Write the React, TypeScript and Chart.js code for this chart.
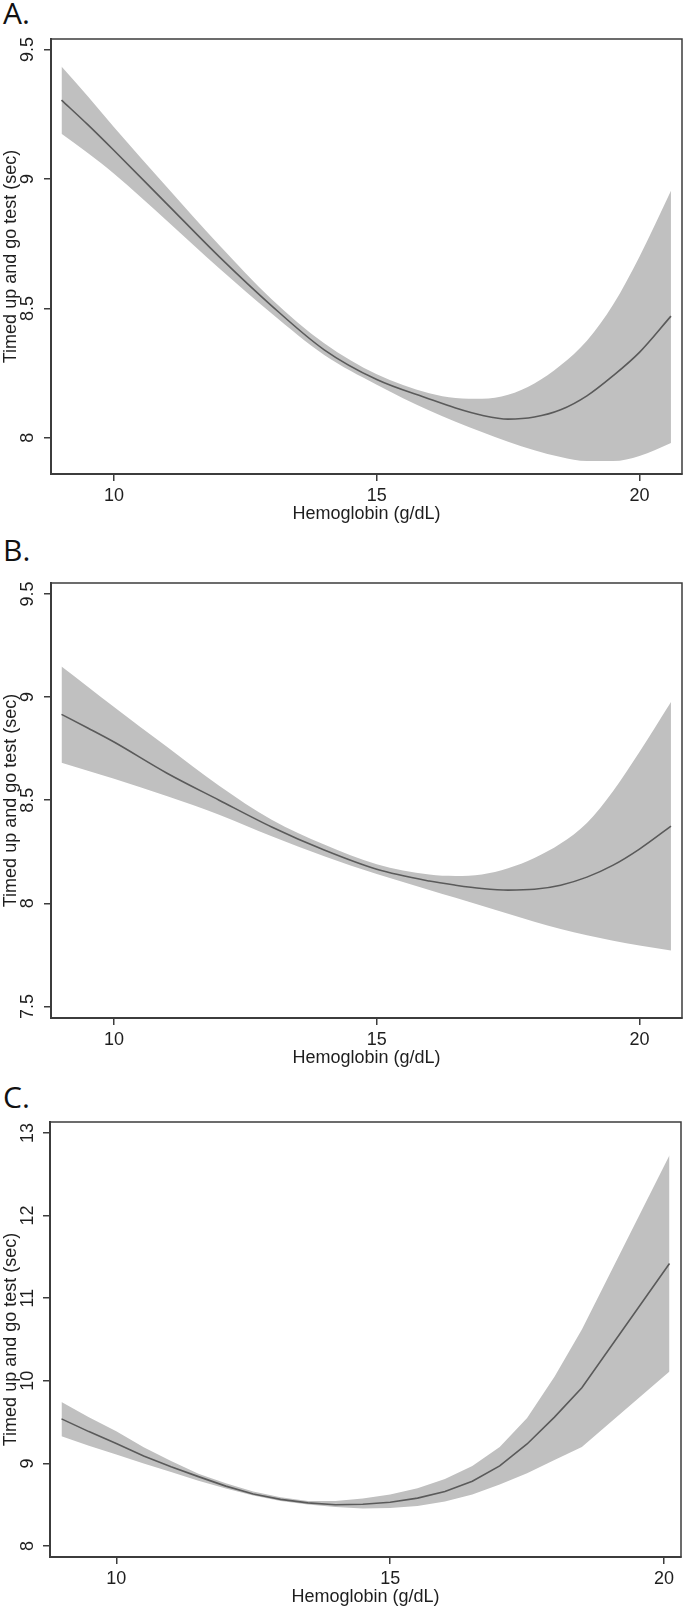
import React, { useEffect, useRef } from 'react';
import { Chart, registerables } from 'chart.js';

Chart.register(...registerables);

// ---------- data ----------
const hbAB = [9, 9.5, 10, 11, 12, 13, 14, 15, 16, 16.5, 17, 17.5, 18, 18.5, 19, 19.5, 20, 20.6];

const fitA = [9.305, 9.21, 9.11, 8.905, 8.70, 8.51, 8.34, 8.225, 8.15, 8.115, 8.087, 8.072, 8.08, 8.108, 8.162, 8.24, 8.33, 8.47];
const upperA = [9.435, 9.32, 9.20, 8.97, 8.745, 8.535, 8.365, 8.245, 8.172, 8.154, 8.151, 8.166, 8.21, 8.28, 8.375, 8.515, 8.70, 8.955];
const lowerA = [9.175, 9.10, 9.02, 8.84, 8.655, 8.48, 8.32, 8.205, 8.105, 8.062, 8.022, 7.985, 7.952, 7.926, 7.91, 7.91, 7.93, 7.98];

const fitB = [8.916, 8.85, 8.782, 8.632, 8.50, 8.37, 8.258, 8.165, 8.108, 8.088, 8.072, 8.064, 8.068, 8.088, 8.127, 8.185, 8.263, 8.374];
const upperB = [9.148, 9.05, 8.952, 8.76, 8.57, 8.405, 8.285, 8.19, 8.14, 8.133, 8.14, 8.17, 8.22, 8.29, 8.39, 8.545, 8.734, 8.976];
const lowerB = [8.682, 8.643, 8.604, 8.52, 8.43, 8.325, 8.228, 8.142, 8.065, 8.027, 7.988, 7.949, 7.911, 7.875, 7.845, 7.818, 7.795, 7.771];

const hbC = [9, 9.5, 10, 10.5, 11, 11.5, 12, 12.5, 13, 13.5, 14, 14.5, 15, 15.5, 16, 16.5, 17, 17.5, 18, 18.5, 20.1];
const fitC = [9.539, 9.385, 9.24, 9.09, 8.96, 8.84, 8.725, 8.63, 8.565, 8.522, 8.50, 8.505, 8.53, 8.58, 8.66, 8.785, 8.97, 9.235, 9.56, 9.915, 11.42];
const upperC = [9.744, 9.56, 9.39, 9.195, 9.03, 8.875, 8.76, 8.66, 8.59, 8.545, 8.545, 8.575, 8.625, 8.70, 8.81, 8.97, 9.2, 9.55, 10.05, 10.62, 12.73];
const lowerC = [9.329, 9.215, 9.107, 9.0, 8.896, 8.79, 8.695, 8.61, 8.545, 8.502, 8.472, 8.455, 8.46, 8.485, 8.54, 8.625, 8.745, 8.88, 9.04, 9.20, 10.114];

const xTicks = [10, 15, 20];
const yTicksA = [8, 8.5, 9, 9.5];
const yTicksB = [7.5, 8, 8.5, 9, 9.5];
const yTicksC = [8, 9, 10, 11, 12, 13];

const panelLabels = ['A.', 'B.', 'C.'];
const xTitle = 'Hemoglobin (g/dL)';
const yTitle = 'Timed up and go test (sec)';

// ---------- styles ----------
const FONT = "'Liberation Sans', Arial, Helvetica, sans-serif";
const FRAME = '#3c3c3c';
const TEXT = '#1e1e1e';
const BAND = '#c0c0c0';
const LINE = '#5a5a5a';

const toPts = (xs: number[], ys: number[]) => xs.map((x, i) => ({ x, y: ys[i] }));

const framePlugin = {
  id: 'frameAndYLabels',
  afterDraw(chart: any) {
    const { ctx, chartArea } = chart;
    const { left, top, right, bottom } = chartArea;
    ctx.save();
    ctx.strokeStyle = FRAME;
    ctx.lineWidth = 1.5;
    ctx.beginPath();
    ctx.moveTo(left - 0.75, top);
    ctx.lineTo(right, top);
    ctx.lineTo(right, bottom + 0.75);
    ctx.stroke();
    const ys = chart.scales.y;
    ctx.fillStyle = TEXT;
    ctx.font = `18px ${FONT}`;
    ctx.textAlign = 'center';
    ctx.textBaseline = 'middle';
    ys.ticks.forEach((t: any) => {
      const py = ys.getPixelForValue(t.value);
      ctx.save();
      ctx.translate(28, py);
      ctx.rotate(-Math.PI / 2);
      ctx.fillText(String(t.value), 0, 0);
      ctx.restore();
    });
    ctx.restore();
  },
};

type PanelProps = {
  top: number;
  height: number;
  yAxisWidth: number;
  padRight: number;
  xMin: number;
  xMax: number;
  yMin: number;
  yMax: number;
  xs: number[];
  fit: number[];
  upper: number[];
  lower: number[];
  yTicks: number[];
  smooth: boolean;
};

function Panel(p: PanelProps) {
  const ref = useRef<HTMLCanvasElement | null>(null);
  useEffect(() => {
    if (!ref.current) return;
    const interp = p.smooth ? 'monotone' : 'default';
    const chart = new Chart(ref.current, {
      type: 'line',
      data: {
        datasets: [
          {
            data: toPts(p.xs, p.fit),
            borderColor: LINE,
            borderWidth: 1.6,
            pointRadius: 0,
            fill: false,
            order: 0,
            cubicInterpolationMode: interp as any,
          },
          {
            data: toPts(p.xs, p.upper),
            borderWidth: 0,
            borderColor: 'rgba(0,0,0,0)',
            backgroundColor: BAND,
            pointRadius: 0,
            fill: '+1',
            order: 1,
            cubicInterpolationMode: interp as any,
          },
          {
            data: toPts(p.xs, p.lower),
            borderWidth: 0,
            borderColor: 'rgba(0,0,0,0)',
            pointRadius: 0,
            fill: false,
            order: 2,
            cubicInterpolationMode: interp as any,
          },
        ],
      },
      options: {
        animation: false,
        responsive: false,
        maintainAspectRatio: false,
        devicePixelRatio: 1,
        layout: { padding: { left: 0, top: 9, right: p.padRight, bottom: 0 } },
        plugins: { legend: { display: false }, tooltip: { enabled: false } },
        events: [],
        scales: {
          x: {
            type: 'linear',
            min: p.xMin,
            max: p.xMax,
            afterBuildTicks: (s: any) => {
              s.ticks = xTicks.map((v) => ({ value: v }));
            },
            afterFit: (s: any) => {
              s.height = 52;
            },
            grid: {
              drawOnChartArea: false,
              drawTicks: true,
              tickLength: 7,
              color: FRAME,
              lineWidth: 1.5,
            },
            border: { display: true, color: FRAME, width: 2 },
            ticks: {
              padding: 4,
              color: TEXT,
              font: { family: FONT, size: 18 },
              maxRotation: 0,
              autoSkip: false,
            },
            title: {
              display: true,
              text: xTitle,
              color: TEXT,
              font: { family: FONT, size: 18 },
              padding: { top: 0, bottom: 1 },
            },
          },
          y: {
            type: 'linear',
            min: p.yMin,
            max: p.yMax,
            afterBuildTicks: (s: any) => {
              s.ticks = p.yTicks.map((v) => ({ value: v }));
            },
            afterFit: (s: any) => {
              s.width = p.yAxisWidth;
            },
            grid: {
              drawOnChartArea: false,
              drawTicks: true,
              tickLength: 7,
              color: FRAME,
              lineWidth: 1.5,
            },
            border: { display: true, color: FRAME, width: 2 },
            ticks: { display: false },
            title: {
              display: true,
              text: yTitle,
              color: TEXT,
              font: { family: FONT, size: 18 },
              padding: { top: 0, bottom: 0 },
            },
          },
        },
      },
      plugins: [framePlugin],
    } as any);
    return () => chart.destroy();
  }, []);
  return (
    <canvas
      ref={ref}
      width={685}
      height={p.height}
      style={{ position: 'absolute', left: 0, top: p.top, width: 685, height: p.height }}
    />
  );
}

const labelStyle = (top: number): React.CSSProperties => ({
  position: 'absolute',
  left: 3,
  top,
  fontFamily: "'Open Sans', 'Noto Sans', sans-serif",
  fontSize: 30,
  lineHeight: '30px',
  color: '#111',
  whiteSpace: 'nowrap',
});

export default function App() {
  return (
    <div style={{ position: 'absolute', left: 0, top: 0, width: 685, height: 1609, background: '#fff', overflow: 'hidden' }}>
      <div style={labelStyle(-2)}>{panelLabels[0]}</div>
      <div style={labelStyle(535)}>{panelLabels[1]}</div>
      <div style={labelStyle(1082)}>{panelLabels[2]}</div>
      <Panel
        top={30}
        height={496}
        yAxisWidth={51}
        padRight={3}
        xMin={8.8}
        xMax={20.81}
        yMin={7.86}
        yMax={9.541}
        xs={hbAB}
        fit={fitA}
        upper={upperA}
        lower={lowerA}
        yTicks={yTicksA}
        smooth={true}
      />
      <Panel
        top={574}
        height={496}
        yAxisWidth={51}
        padRight={3}
        xMin={8.8}
        xMax={20.81}
        yMin={7.444}
        yMax={9.553}
        xs={hbAB}
        fit={fitB}
        upper={upperB}
        lower={lowerB}
        yTicks={yTicksB}
        smooth={true}
      />
      <Panel
        top={1113}
        height={496}
        yAxisWidth={50}
        padRight={4}
        xMin={8.79}
        xMax={20.31}
        yMin={7.867}
        yMax={13.133}
        xs={hbC}
        fit={fitC}
        upper={upperC}
        lower={lowerC}
        yTicks={yTicksC}
        smooth={false}
      />
    </div>
  );
}
